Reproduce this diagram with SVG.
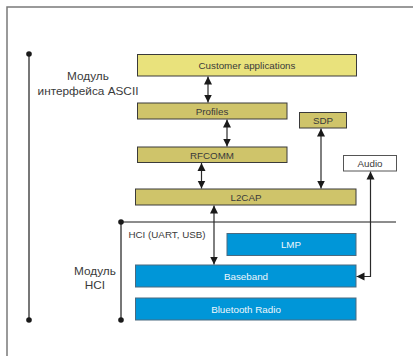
<svg xmlns="http://www.w3.org/2000/svg" width="413" height="356" viewBox="0 0 413 356">
<style>
.frame{fill:none;stroke:#7a7a7a;stroke-width:1.5}
.box{stroke:#3a3a3a;stroke-width:1}
.app{fill:#e9e27c}
.olive{fill:#cfc46a}
.blue{fill:#0096d8;stroke:#4a6a80}
.white{fill:#ffffff;stroke:#555}
.lbl{font-family:"Liberation Sans",Arial,sans-serif;font-size:9.8px;text-anchor:middle;fill:#3a3a3a}
.lblw{font-family:"Liberation Sans",Arial,sans-serif;font-size:9.8px;text-anchor:middle;fill:#eef7fc}
.side{font-family:"Liberation Sans",Arial,sans-serif;font-size:11.8px;text-anchor:middle;fill:#3a3a3a}
.conn{fill:none;stroke:#2a2a2a;stroke-width:1.2}
.bar{fill:none;stroke:#555;stroke-width:1.6}
.dot{fill:#1a1a1a}
</style>
<defs>
<marker id="ah" viewBox="0 0 10 10" refX="10" refY="5" markerWidth="8" markerHeight="9" markerUnits="userSpaceOnUse" orient="auto-start-reverse">
<path d="M0,0 L10,5 L0,10 z" fill="#1a1a1a"/>
</marker>
</defs>
<path class="frame" d="M413,7 H7 V356"/>
<g id="bars">
<line class="bar" x1="29" y1="54" x2="29" y2="320"/>
<circle class="dot" cx="29" cy="54" r="2.8"/>
<circle class="dot" cx="29" cy="320" r="2.8"/>
<line class="bar" x1="121" y1="222" x2="121" y2="320"/>
<circle class="dot" cx="121" cy="222" r="2.8"/>
<circle class="dot" cx="121" cy="320" r="2.8"/>
<line x1="121" y1="222" x2="396" y2="222" stroke="#1a1a1a" stroke-width="1"/>
</g>
<g id="labels">
<text class="side" x="88" y="80">Модуль</text>
<text class="side" x="88" y="95">интерфейса ASCII</text>
<text class="side" x="95" y="275">Модуль</text>
<text class="side" x="95" y="289">HCI</text>
<text class="lbl" x="167" y="238">HCI  (UART, USB)</text>
</g>
<g id="customer"><rect class="box app" x="137.5" y="54.5" width="219" height="21.5"/><text class="lbl" x="247" y="68.5">Customer applications</text></g>
<g id="profiles"><rect class="box olive" x="137.5" y="103" width="149.5" height="16"/><text class="lbl" x="212" y="114.5">Profiles</text></g>
<g id="sdp"><rect class="box olive" x="299.5" y="112.5" width="47" height="15.5"/><text class="lbl" x="323" y="124">SDP</text></g>
<g id="rfcomm"><rect class="box olive" x="137.5" y="147" width="149.5" height="15.5"/><text class="lbl" x="212" y="158.5">RFCOMM</text></g>
<g id="audio"><rect class="box white" x="343.5" y="155.5" width="53" height="15.5"/><text class="lbl" x="370" y="167">Audio</text></g>
<g id="l2cap"><rect class="box olive" x="135.5" y="189" width="220.5" height="16"/><text class="lbl" x="246" y="200.5">L2CAP</text></g>
<g id="lmp"><rect class="box blue" x="227" y="233.5" width="129" height="22"/><text class="lblw" x="291" y="248">LMP</text></g>
<g id="baseband"><rect class="box blue" x="135.5" y="265" width="220.5" height="22"/><text class="lblw" x="246" y="279.5">Baseband</text></g>
<g id="radio"><rect class="box blue" x="135.5" y="298" width="220.5" height="22"/><text class="lblw" x="246" y="312.5">Bluetooth Radio</text></g>
<g id="connectors">
<line class="conn" x1="208" y1="76.5" x2="208" y2="102.5" marker-start="url(#ah)" marker-end="url(#ah)"/>
<line class="conn" x1="227" y1="119.5" x2="227" y2="146.5" marker-start="url(#ah)" marker-end="url(#ah)"/>
<line class="conn" x1="201.5" y1="163" x2="201.5" y2="188.5" marker-start="url(#ah)" marker-end="url(#ah)"/>
<line class="conn" x1="321" y1="128.5" x2="321" y2="188.5" marker-start="url(#ah)" marker-end="url(#ah)"/>
<line class="conn" x1="214" y1="205.5" x2="214" y2="264.5" marker-start="url(#ah)" marker-end="url(#ah)"/>
<path class="conn" d="M356.5,276.5 H370.5 V171.5" marker-start="url(#ah)" marker-end="url(#ah)"/>
</g>
</svg>
